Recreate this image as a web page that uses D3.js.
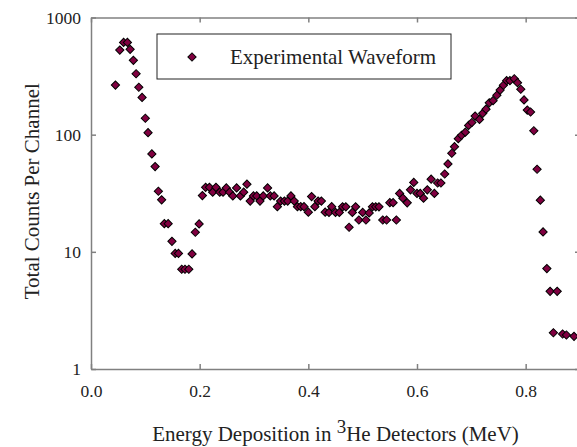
<!DOCTYPE html>
<meta charset="utf-8">
<style>
    body { margin: 0; background: #fff; }
    svg text { font-family: "Liberation Serif", "DejaVu Serif", serif; }
    .axis path, .axis line {
        stroke: #808080;
        stroke-width: 1.5;
    }
    .axis text {
        font-family: "Liberation Serif", "DejaVu Serif", serif;
        font-size: 17.5px;
        fill: #222;
    }
    .dot {
        fill: #800040;
        stroke: #000;
        stroke-width: 1;
    }
</style>
<svg width="577" height="447"></svg>
<script src="https://d3js.org/d3.v7.min.js"></script>
<script>

    // energy (MeV) of each channel and the counts in it
    var energy = [0.045,0.053,0.060,0.067,0.072,0.078,0.083,0.088,0.094,0.100,
        0.105,0.112,0.118,0.124,0.130,0.135,0.142,0.149,0.155,0.161,
        0.167,0.173,0.180,0.186,0.192,0.199,0.205,0.211,0.218,0.224,
        0.230,0.237,0.243,0.249,0.255,0.261,0.268,0.275,0.281,0.287,
        0.293,0.299,0.305,0.311,0.317,0.325,0.330,0.337,0.343,0.349,
        0.356,0.362,0.368,0.374,0.380,0.386,0.392,0.400,0.406,0.412,
        0.418,0.424,0.431,0.438,0.443,0.450,0.457,0.463,0.469,0.475,
        0.481,0.487,0.493,0.500,0.506,0.512,0.518,0.524,0.530,0.537,
        0.544,0.550,0.556,0.562,0.568,0.574,0.582,0.588,0.594,0.600,
        0.606,0.612,0.619,0.626,0.632,0.638,0.644,0.651,0.657,0.664,
        0.669,0.676,0.682,0.689,0.695,0.701,0.707,0.715,0.721,0.727,
        0.733,0.740,0.747,0.753,0.759,0.765,0.771,0.779,0.785,0.791,
        0.797,0.803,0.809,0.815,0.821,0.827,0.832,0.839,0.845,0.851,
        0.858,0.868,0.875,0.889];

    var counts = [265,527,613,613,535,431,331,254,208,138,
        104,68.5,53.4,32.9,27.8,17.4,17.4,12.3,9.7,9.7,
        7.1,7.1,7.1,9.6,14.7,17.3,30.2,35.5,35.5,32.3,
        35.5,32.3,32.3,35.1,32.3,30.0,35.1,30.0,32.3,37.8,
        27.1,30.0,30.0,27.1,30.0,35.1,30.0,30.0,24.3,27.1,
        27.1,27.1,30.0,27.1,24.3,24.3,24.3,21.8,29.6,24.3,
        27.1,27.1,21.8,21.7,24.3,21.7,21.7,24.2,24.2,16.2,
        21.7,24.2,18.7,21.7,18.7,21.5,24.2,24.2,24.2,18.7,
        18.7,26.3,26.3,18.7,31.5,28.7,26.2,33.8,39.1,31.5,
        31.5,28.7,33.8,41.7,31.5,38.7,38.7,46.2,56.3,69.4,
        79.0,92.4,98.8,105,120,127,144,135,152,165,
        187,195,217,240,264,289,289,300,278,244,
        198,162,156,108,50.7,27.6,14.8,7.2,4.6,2.04,
        4.6,1.99,1.95,1.90];

    var xTicks = [0, 0.2, 0.4, 0.6, 0.8],
        yTicks = [1, 10, 100, 1000],
        seriesName = "Experimental Waveform";

    var serif = "'Liberation Serif', 'DejaVu Serif', serif";

    var svg = d3.select("svg"),
        margin = {top: 17.5, right: -3, bottom: 78, left: 91},
        width = +svg.attr("width") - margin.left - margin.right,
        height = +svg.attr("height") - margin.top - margin.bottom;

    var x = d3.scaleLinear().domain([0, 0.9]).range([0, width]),
        y = d3.scaleLog().domain([1, 1000]).range([height, 0]);

    var g = svg.append("g")
        .attr("transform", "translate(" + margin.left + "," + margin.top + ")");

    g.append("g")
        .attr("class", "axis axis--x")
        .attr("transform", "translate(0," + height + ")")
        .call(d3.axisBottom(x).tickValues(xTicks).tickFormat(d3.format(".1f"))
            .tickSizeInner(-5).tickSizeOuter(0).tickPadding(16));

    g.append("g")
        .attr("class", "axis axis--top")
        .call(d3.axisTop(x).tickValues(xTicks).tickFormat("")
            .tickSizeInner(-5).tickSizeOuter(0));

    g.append("g")
        .attr("class", "axis axis--y")
        .call(d3.axisLeft(y).tickValues(yTicks).tickFormat(d3.format("d"))
            .tickSizeInner(-5).tickSizeOuter(0).tickPadding(10));

    g.append("g")
        .attr("class", "axis axis--right")
        .attr("transform", "translate(" + width + ",0)")
        .call(d3.axisRight(y).tickValues(yTicks).tickFormat("")
            .tickSizeInner(-5).tickSizeOuter(0));

    g.selectAll(".axis").attr("font-family", serif);

    var points = energy.map(function(e, i) { return {x: e, y: counts[i]}; });
    var diamond = d3.symbol().type(d3.symbolSquare).size(34);

    g.selectAll(".dot")
        .data(points)
        .enter().append("path")
        .attr("class", "dot")
        .attr("d", diamond)
        .attr("transform", function(d) {
            return "translate(" + x(d.x) + "," + y(d.y) + ") rotate(45)";
        });

    // legend
    var legend = svg.append("g").attr("transform", "translate(157,34)");
    legend.append("rect")
        .attr("width", 294).attr("height", 45)
        .attr("fill", "#fff").attr("stroke", "#222").attr("stroke-width", 1);
    legend.append("path")
        .attr("class", "dot")
        .attr("d", diamond)
        .attr("transform", "translate(35,23) rotate(45)");
    legend.append("text")
        .attr("x", 73).attr("y", 30)
        .attr("font-family", serif)
        .attr("font-size", 21)
        .attr("fill", "#222")
        .text(seriesName);

    // axis titles
    svg.append("text")
        .attr("transform", "translate(39," + (margin.top + height / 2 - 2) + ") rotate(-90)")
        .attr("text-anchor", "middle")
        .attr("font-family", serif)
        .attr("font-size", 21)
        .attr("fill", "#222")
        .text("Total Counts Per Channel");

    var xt = svg.append("text")
        .attr("x", margin.left + width / 2)
        .attr("y", 441)
        .attr("text-anchor", "middle")
        .attr("font-family", serif)
        .attr("font-size", 21)
        .attr("fill", "#222");
    xt.append("tspan").text("Energy Deposition in ");
    xt.append("tspan").attr("dy", -8).attr("font-size", 19).text("3");
    xt.append("tspan").attr("dy", 8).text("He Detectors (MeV)");
</script>
